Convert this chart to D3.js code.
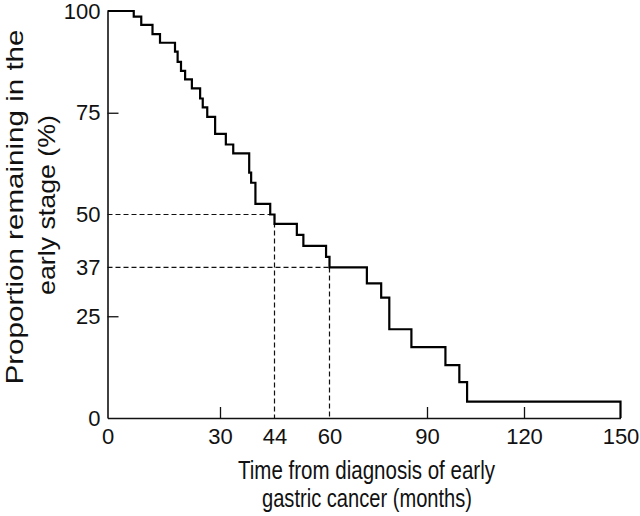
<!DOCTYPE html>
<html>
<head>
<meta charset="utf-8">
<script src="https://cdn.jsdelivr.net/npm/d3@7"></script>
<style>
  html, body { margin: 0; padding: 0; background: #ffffff; }
  svg { display: block; }
  text { font-family: "Liberation Sans", Arial, Helvetica, sans-serif; fill: #111; }
</style>
</head>
<body>
<svg id="chart" width="640" height="516"></svg>
<script>
// ---- data ----
const times = [0, 7, 9, 12, 14, 18, 18.7, 19.6, 20.7, 22.5, 24.7, 25.4, 26.6, 28.7,
               31.5, 33.4, 37.5, 38, 39.1, 42.9, 44, 50.5, 52.4, 59, 60,
               71.5, 75.9, 78.4, 85.2, 95.7, 100, 102.4, 150];
const survival = [100, 98.6, 96.6, 94.3, 92.2, 90.0, 87.5, 85.3, 83.2, 81.0, 78.5, 76.3, 74.0, 69.8,
                  67.2, 65.0, 60.3, 57.8, 52.6, 50.0, 47.7, 45.0, 42.3, 39.6, 37.0,
                  33.1, 29.6, 21.8, 17.4, 13.0, 8.8, 4.0, 0];
const xTickLabels = [0, 30, 44, 60, 90, 120, 150];
const xTickMarks = [30, 90, 120];
const yTickLabels = [0, 25, 37, 50, 75, 100];
const yTickMarks = [25, 75];
const medianRefs = [{t: 44, p: 50}, {t: 60, p: 37}];
const xTitle = ["Time from diagnosis of early", "gastric cancer (months)"];
const yTitle = ["Proportion remaining in the", "early stage (%)"];

// ---- scales (the printed axis is not evenly spaced, so use a piecewise scale) ----
const x = d3.scaleLinear()
  .domain(xTickLabels)
  .range([107.5, 220, 274.5, 329.5, 427, 524, 620.5]);
const y = d3.scaleLinear().domain([0, 100]).range([418, 11]);

const svg = d3.select("#chart");

// dashed reference lines
const refs = svg.append("g")
  .attr("fill", "none").attr("stroke", "#111")
  .attr("stroke-width", 1.2).attr("stroke-dasharray", "5,3");
medianRefs.forEach(r => {
  refs.append("line")
    .attr("x1", x(0)).attr("x2", x(r.t))
    .attr("y1", y(r.p)).attr("y2", y(r.p));
  refs.append("line")
    .attr("x1", x(r.t)).attr("x2", x(r.t))
    .attr("y1", y(r.p)).attr("y2", y(0));
});

// axes: labels
const fmt = d3.format("d");
svg.append("g").attr("transform", `translate(0,${y(0)})`)
  .call(d3.axisBottom(x).tickValues(xTickLabels).tickFormat(fmt)
        .tickSizeInner(0).tickSizeOuter(0).tickPadding(10));
svg.append("g").attr("transform", `translate(${x(0)},0)`)
  .call(d3.axisLeft(y).tickValues(yTickLabels).tickFormat(fmt)
        .tickSizeInner(0).tickSizeOuter(0).tickPadding(7));
// axes: inward tick marks
svg.append("g").attr("transform", `translate(0,${y(0)})`)
  .call(d3.axisBottom(x).tickValues(xTickMarks).tickFormat("")
        .tickSizeInner(-11).tickSizeOuter(0))
  .call(g => g.select(".domain").remove());
svg.append("g").attr("transform", `translate(${x(0)},0)`)
  .call(d3.axisLeft(y).tickValues(yTickMarks).tickFormat("")
        .tickSizeInner(-11).tickSizeOuter(0))
  .call(g => g.select(".domain").remove());

svg.selectAll(".domain").attr("stroke", "#111").attr("stroke-width", 1.6);
svg.selectAll(".tick line").attr("stroke", "#111").attr("stroke-width", 1.3);
svg.selectAll(".tick text").attr("font-size", 22).attr("fill", "#111")
  .attr("font-family", "Liberation Sans, Arial, sans-serif");

// survival step curve
const line = d3.line()
  .x((d, i) => x(times[i]))
  .y(d => y(d))
  .curve(d3.curveStepAfter);
svg.append("path")
  .datum(survival)
  .attr("d", line)
  .attr("fill", "none")
  .attr("stroke", "#000")
  .attr("stroke-width", 2.2)
  .attr("stroke-linejoin", "miter");

// axis titles
svg.append("text").attr("x", 366.5).attr("y", 479)
  .attr("text-anchor", "middle").attr("font-size", 25)
  .attr("textLength", 257).attr("lengthAdjust", "spacingAndGlyphs")
  .text(xTitle[0]);
svg.append("text").attr("x", 367).attr("y", 507)
  .attr("text-anchor", "middle").attr("font-size", 25)
  .attr("textLength", 210).attr("lengthAdjust", "spacingAndGlyphs")
  .text(xTitle[1]);

svg.append("text").attr("transform", "translate(23,207) rotate(-90)")
  .attr("text-anchor", "middle").attr("font-size", 24)
  .attr("textLength", 355).attr("lengthAdjust", "spacingAndGlyphs")
  .text(yTitle[0]);
svg.append("text").attr("transform", "translate(55,205) rotate(-90)")
  .attr("text-anchor", "middle").attr("font-size", 24)
  .attr("textLength", 180).attr("lengthAdjust", "spacingAndGlyphs")
  .text(yTitle[1]);
</script>
</body>
</html>
